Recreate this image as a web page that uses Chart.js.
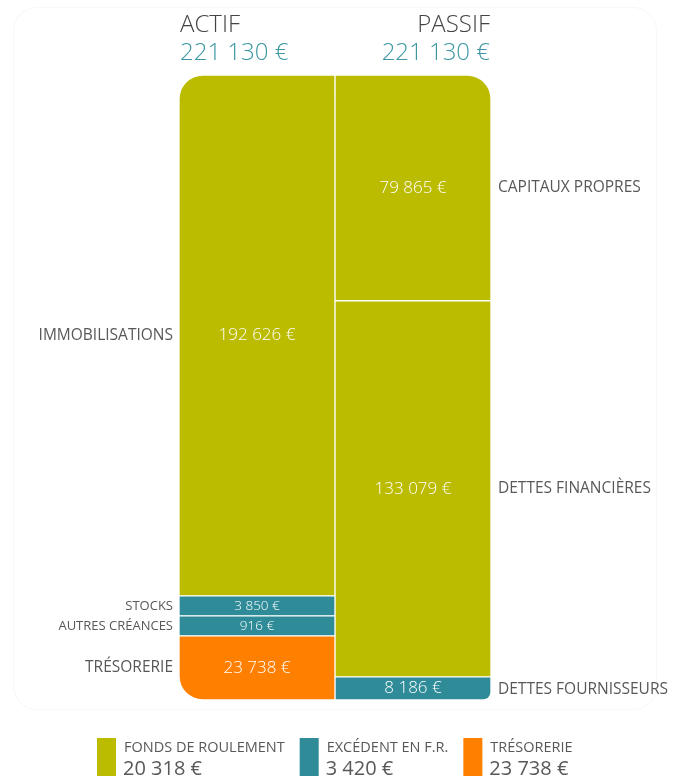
<!DOCTYPE html>
<html>
<head>
<meta charset="utf-8">
<script src="https://cdn.jsdelivr.net/npm/chart.js@4.4.0/dist/chart.umd.min.js"></script>
<style>
  body { margin: 0; background: #fff; }
  #wrap { position: relative; width: 676px; height: 780px; }
  #card { position: absolute; left: 13px; top: 7px; width: 644px; height: 703px;
          border: 1px solid #f8f8f8; border-radius: 24px; box-sizing: border-box; }
  canvas { position: absolute; left: 0; top: 0; }
</style>
</head>
<body>
<div id="wrap">
  <div id="card"></div>
  <canvas id="bilan" width="676" height="780"></canvas>
</div>
<script>
// data, top of each column first
const categories = ['ACTIF', 'PASSIF'];
const actifLabels = ['IMMOBILISATIONS', 'STOCKS', 'AUTRES CRÉANCES', 'TRÉSORERIE'];
const actifValues = [192626, 3850, 916, 23738];
const passifLabels = ['CAPITAUX PROPRES', 'DETTES FINANCIÈRES', 'DETTES FOURNISSEURS'];
const passifValues = [79865, 133079, 8186];
const legendLabels = ['FONDS DE ROULEMENT', 'EXCÉDENT EN F.R.', 'TRÉSORERIE'];
const legendValues = [20318, 3420, 23738];

const OLIVE = '#bbbb00';
const TEAL = '#2f8b98';
const ORANGE = '#ff8000';
const actifColors = [OLIVE, TEAL, TEAL, ORANGE];
const passifColors = [OLIVE, OLIVE, TEAL];
const legendColors = [OLIVE, TEAL, ORANGE];

const FONT = "'Open Sans', sans-serif";
const GREY = '#585858';
const R = 24;

function fmt(v) {
  return String(v).replace(/\B(?=(\d{3})+(?!\d))/g, ' ') + ' €';
}

// small items get a minimum height so they stay readable
function shares(values, minShare) {
  let total = values.reduce((a, b) => a + b, 0);
  let small = values.map(v => v / total < minShare);
  let rest = values.filter((v, i) => !small[i]).reduce((a, b) => a + b, 0);
  let left = 1 - minShare * small.filter(Boolean).length;
  return values.map((v, i) => small[i] ? minShare : v / rest * left);
}

const actifShares = shares(actifValues, 0.032);
const passifShares = shares(passifValues, 0.032);

let datasets = [];
// chart.js stacks from the bottom, so push bottom item first
for (let i = actifValues.length - 1; i >= 0; i--) {
  let radius = {};
  if (i === 0) radius.topLeft = R;
  if (i === actifValues.length - 1) radius.bottomLeft = R;
  datasets.push({
    label: actifLabels[i],
    side: 0,
    raw: actifValues[i],
    data: [actifShares[i], null],
    backgroundColor: actifColors[i],
    borderRadius: radius
  });
}
for (let i = passifValues.length - 1; i >= 0; i--) {
  let radius = {};
  if (i === 0) radius.topRight = R;
  if (i === passifValues.length - 1) radius.bottomRight = R / 3;
  datasets.push({
    label: passifLabels[i],
    side: 1,
    raw: passifValues[i],
    data: [null, passifShares[i]],
    backgroundColor: passifColors[i],
    borderRadius: radius
  });
}

const bilanLabels = {
  id: 'bilanLabels',
  afterDatasetsDraw(chart) {
    const ctx = chart.ctx;
    ctx.save();
    ctx.textBaseline = 'middle';
    chart.data.datasets.forEach((ds, di) => {
      const el = chart.getDatasetMeta(di).data[ds.side];
      const h = Math.abs(el.base - el.y);
      const small = h < 24 && ds.side === 0;
      const cy = (el.y + el.base) / 2;
      ctx.fillStyle = '#fff';
      ctx.textAlign = 'center';
      ctx.font = '300 ' + (small ? 13.5 : 17) + 'px ' + FONT;
      ctx.fillText(fmt(ds.raw), el.x, cy);
      ctx.fillStyle = GREY;
      ctx.font = (small ? 13 : 15.5) + 'px ' + FONT;
      if (ds.side === 0) {
        ctx.textAlign = 'right';
        ctx.fillText(ds.label, el.x - el.width / 2 - 6, cy);
      } else {
        ctx.textAlign = 'left';
        ctx.fillText(ds.label, el.x + el.width / 2 + 7, h < 24 ? cy + 1 : cy);
      }
    });

    // column headers
    const area = chart.chartArea;
    const totals = [actifValues, passifValues].map(a => a.reduce((s, v) => s + v, 0));
    ctx.textBaseline = 'alphabetic';
    ctx.font = '300 24px ' + FONT;
    ctx.textAlign = 'left';
    ctx.fillStyle = '#444';
    ctx.fillText(categories[0], area.left + 1, 32);
    ctx.fillStyle = '#3a97a2';
    ctx.fillText(fmt(totals[0]), area.left + 1, 60);
    ctx.textAlign = 'right';
    ctx.fillStyle = '#444';
    ctx.fillText(categories[1], area.right - 1, 32);
    ctx.fillStyle = '#3a97a2';
    ctx.fillText(fmt(totals[1]), area.right - 1, 60);

    // legend
    ctx.textAlign = 'left';
    let widths = legendLabels.map((l, i) => {
      ctx.font = '14.5px ' + FONT;
      let a = ctx.measureText(l).width;
      ctx.font = '20px ' + FONT;
      let b = ctx.measureText(fmt(legendValues[i])).width;
      return 19 + 8 + Math.max(a, b);
    });
    let x = 97;
    legendLabels.forEach((l, i) => {
      ctx.fillStyle = legendColors[i];
      ctx.fillRect(x, 738, 19, 38);
      ctx.fillStyle = GREY;
      ctx.font = '14.5px ' + FONT;
      ctx.fillText(l, x + 27, 752);
      ctx.font = '20px ' + FONT;
      ctx.fillText(fmt(legendValues[i]), x + 26, 775);
      x += widths[i] + 15;
    });
    ctx.restore();
  }
};

new Chart(document.getElementById('bilan'), {
  type: 'bar',
  data: { labels: categories, datasets: datasets },
  options: {
    responsive: false,
    animation: false,
    layout: { padding: { left: 179, right: 185, top: 75, bottom: 80 } },
    datasets: {
      bar: {
        barPercentage: 1,
        categoryPercentage: 1,
        borderWidth: 1,
        borderColor: 'rgba(255,255,255,0.9)',
        borderSkipped: false
      }
    },
    scales: {
      x: { stacked: true, display: false },
      y: { stacked: true, display: false, min: 0, max: 1 }
    },
    plugins: {
      legend: { display: false },
      tooltip: {
        callbacks: {
          label: c => c.dataset.label + ' : ' + fmt(c.dataset.raw)
        }
      }
    }
  },
  plugins: [bilanLabels]
});
</script>
</body>
</html>
